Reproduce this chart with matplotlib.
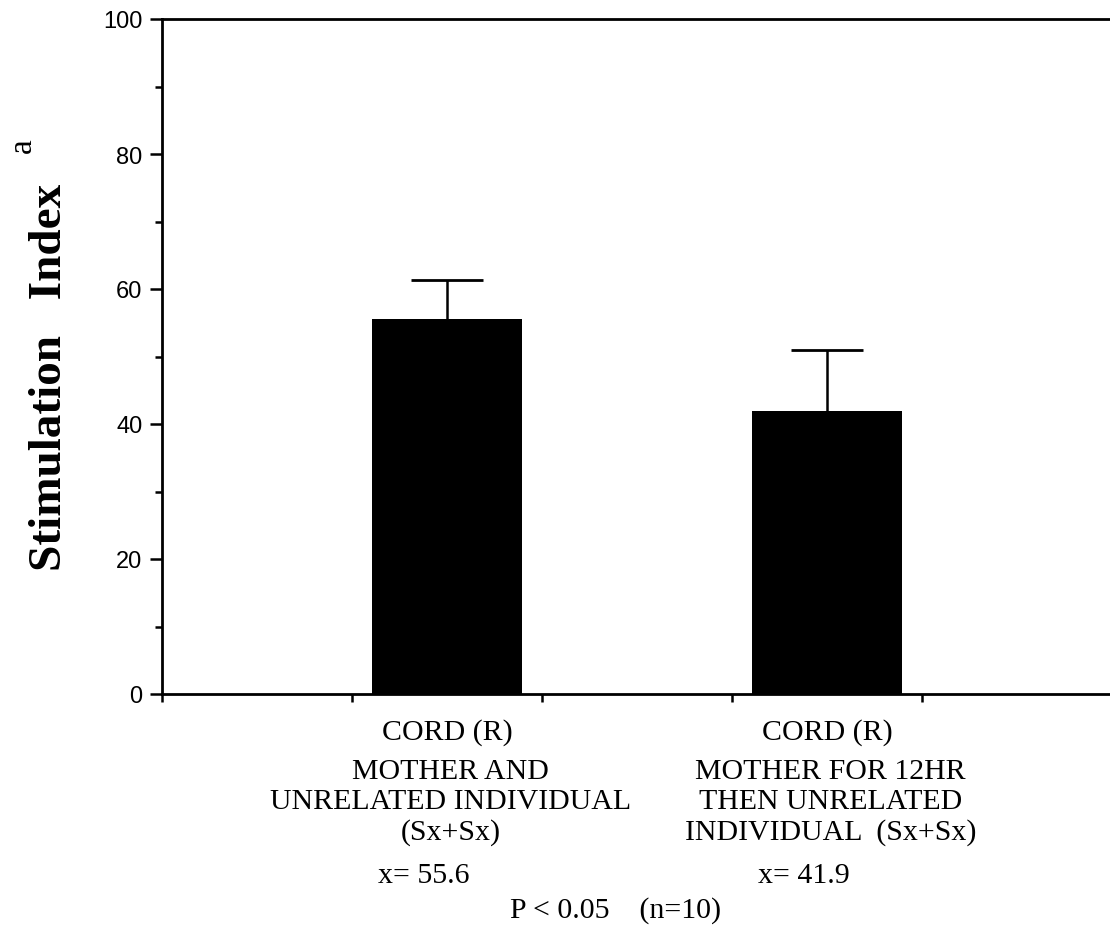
import matplotlib

matplotlib.use("Agg")
import matplotlib.pyplot as plt
from matplotlib.transforms import blended_transform_factory

# bar data (mean stimulation index, upper error)
positions = [1.5, 3.5]
means = [55.6, 41.9]
upper_err = [5.7, 9.0]

group_titles = ["CORD (R)", "CORD (R)"]
group_lines = [
    ["MOTHER AND", "UNRELATED INDIVIDUAL", "(Sx+Sx)"],
    ["MOTHER FOR 12HR", "THEN UNRELATED", "INDIVIDUAL  (Sx+Sx)"],
]
mean_labels = ["x= 55.6", "x= 41.9"]
footer = "P < 0.05    (n=10)"
ylabel = "Stimulation   Index"

yticks = [0, 20, 40, 60, 80, 100]
xticks = [0, 1, 2, 3, 4, 5]

W, H = 1110, 928
fig = plt.figure(figsize=(W / 100, H / 100), dpi=100)
fig.patch.set_facecolor("white")

# axes box in pixels: left 162, top 20, bottom 695, one x unit = 190 px
ax = fig.add_axes([162 / W, 1 - 695 / H, 950 / W, 675 / H])
ax.set_xlim(0, 5)
ax.set_ylim(0, 100)

ax.bar(positions, means, width=0.79, color="black", zorder=2)
_, caps, _ = ax.errorbar(positions, means, yerr=[[0, 0], upper_err], fmt="none",
                         ecolor="black", elinewidth=1.8, capsize=26, capthick=2,
                         zorder=3)
caps[0].set_visible(False)  # no cap on the bar top itself

for side in ("left", "bottom", "top"):
    ax.spines[side].set_linewidth(2)
ax.spines["right"].set_visible(False)

ax.set_yticks(yticks)
ax.set_yticks(range(10, 100, 20), minor=True)
ax.set_xticks(xticks)
ax.set_xticklabels([])
ax.tick_params(axis="y", which="major", direction="out", length=9, width=1.8,
               pad=5, labelsize=17)
ax.tick_params(axis="y", which="minor", direction="out", length=5, width=1.8)
ax.tick_params(axis="x", which="major", direction="out", length=6, width=1.8)
for lab in ax.get_yticklabels():
    lab.set_fontfamily("Liberation Sans")

serif = "Liberation Serif"
tr = blended_transform_factory(ax.transData, fig.transFigure)


def fy(px):
    return 1 - px / H


for x, title, lines, mlab in zip(positions, group_titles, group_lines, mean_labels):
    ax.text(x, fy(733), title, transform=tr, ha="center", va="center",
            family=serif, fontsize=21.5)
    for y, line in zip([772, 802, 833], lines):
        ax.text(x + 0.02, fy(y), line, transform=tr, ha="center", va="center",
                family=serif, fontsize=21.5)
    ax.text(x - 0.12, fy(876), mlab, transform=tr, ha="center", va="center",
            family=serif, fontsize=21.5)

fig.text(616 / W, fy(911), footer, ha="center", va="center",
         family=serif, fontsize=21.5)

fig.text(50 / W, fy(377), ylabel, rotation=90, ha="center",
         va="center", family=serif, fontweight="bold", fontsize=34)
fig.text(23 / W, fy(146), "a", rotation=90, ha="center", va="center",
         family=serif, fontsize=24)

fig.savefig("out.png", dpi=100, facecolor="white")
